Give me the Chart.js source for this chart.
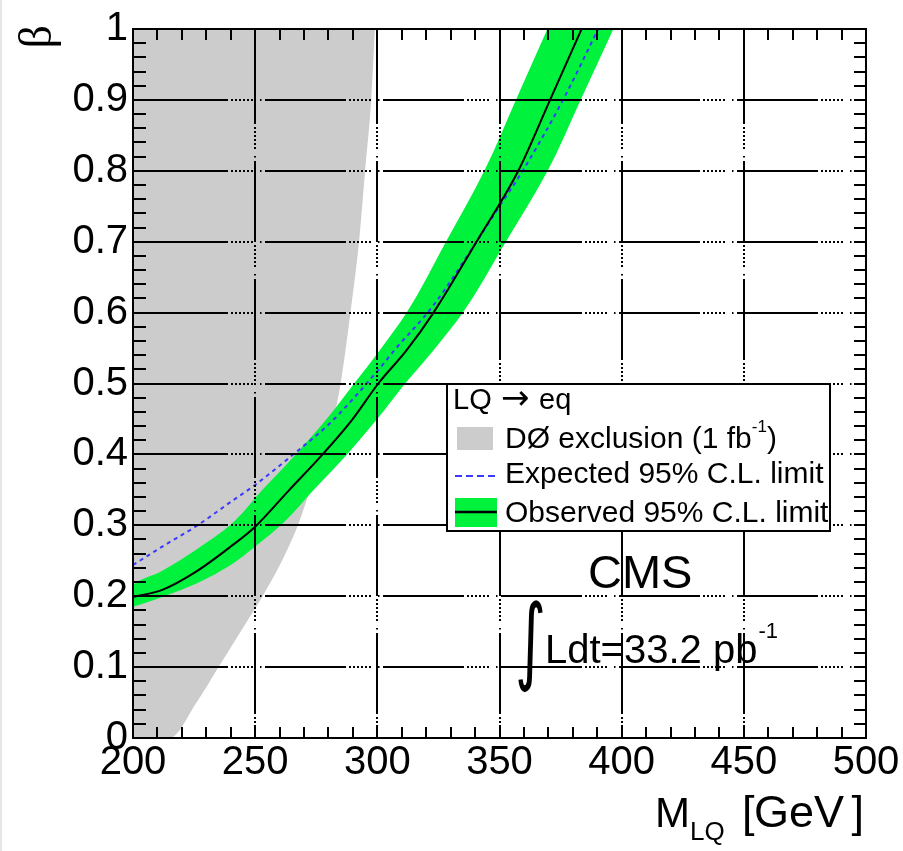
<!DOCTYPE html>
<html>
<head>
<meta charset="utf-8">
<title>LQ → eq exclusion in β vs M_LQ</title>
<script src="https://cdn.jsdelivr.net/npm/chart.js@4.4.0/dist/chart.umd.min.js"></script>
<style>
  html, body { margin: 0; padding: 0; background: #fff; }
  #wrap { position: relative; width: 903px; height: 851px; }
</style>
</head>
<body>
<div id="wrap"><canvas id="limits"></canvas></div>
<script>
// DØ exclusion (1 fb^-1) boundary, excluded region lies above/left of it
const d0Mass = [200, 215, 226, 235, 244, 253, 261, 267.5, 272.5, 277.5, 282, 285, 289, 292.5, 295, 297.5, 299];
const d0Beta = [0, 0, 0.05, 0.1, 0.15, 0.2, 0.25, 0.3, 0.35, 0.4, 0.45, 0.5, 0.6, 0.7, 0.8, 0.9, 1];

// observed limit uncertainty band, left (upper) and right (lower) edges, ordered in beta
const bandLeftMass = [200, 200, 212, 226, 239.7, 253, 266.6, 278.8, 290.5, 301, 312, 328.1, 343.8, 356.7, 369.6];
const bandLeftBeta = [0.185, 0.214, 0.236, 0.266, 0.300, 0.350, 0.400, 0.448, 0.500, 0.547, 0.600, 0.700, 0.800, 0.900, 1.000];
const bandRightMass = [200, 212, 226, 240, 250, 262, 274, 287.6, 299.5, 311.4, 323, 335, 352.6, 369.7, 383.2, 396.6];
const bandRightBeta = [0.185, 0.199, 0.218, 0.244, 0.270, 0.305, 0.350, 0.400, 0.448, 0.500, 0.547, 0.600, 0.700, 0.800, 0.900, 1.000];

// observed 95% C.L. limit
const obsMass = [200, 212, 226, 240, 250, 264, 277.6, 289.5, 300.4, 312, 323, 340.6, 357.7, 370.7, 383.6];
const obsBeta = [0.199, 0.209, 0.235, 0.270, 0.298, 0.350, 0.400, 0.448, 0.500, 0.547, 0.600, 0.700, 0.800, 0.900, 1.000];

// expected 95% C.L. limit
const expMass = [200, 212, 226, 240, 250, 267, 280.6, 300.4, 307, 322.9, 340.6, 350, 359.5, 376, 390.4];
const expBeta = [0.244, 0.270, 0.299, 0.333, 0.357, 0.404, 0.444, 0.519, 0.547, 0.610, 0.700, 0.750, 0.800, 0.900, 1.000];

const xTickLabels = ["200", "250", "300", "350", "400", "450", "500"];
const yTickLabels = ["0", "0.1", "0.2", "0.3", "0.4", "0.5", "0.6", "0.7", "0.8", "0.9", "1"];

const FONT = "'Liberation Sans', Arial, Helvetica, sans-serif";
const GREY = "#cccccc";
const GREEN = "#00f23c";
const BLUE = "#3a3aff";

const toPoints = (xs, ys) => xs.map((x, i) => ({ x: x, y: ys[i] }));

//ROOT style frame: dash-dot grid on top of the fills, inward minor ticks
const framePlugin = {
  id: "frame",
  afterDatasetsDraw(chart) {
    const { ctx, chartArea: a, scales } = chart;
    const x = scales.x;
    const y = scales.y;
    const lead = 95;
    const pattern = [81, 3, 2, 2, 2, 2, 2, 2, 2, 2, 2, 2, 2, 7, 1.5, 3.5];

    ctx.save();
    ctx.strokeStyle = "#000";
    ctx.lineWidth = 2;
    ctx.lineCap = "butt";

    const gridLine = (x0, y0, dx, dy, len) => {
      ctx.setLineDash([]);
      ctx.beginPath();
      ctx.moveTo(x0, y0);
      ctx.lineTo(x0 + dx * lead, y0 + dy * lead);
      ctx.stroke();
      ctx.setLineDash(pattern);
      ctx.lineDashOffset = 81;
      ctx.beginPath();
      ctx.moveTo(x0 + dx * lead, y0 + dy * lead);
      ctx.lineTo(x0 + dx * len, y0 + dy * len);
      ctx.stroke();
    };

    for (let k = 1; k < 10; k++) {
      const py = Math.round(y.getPixelForValue(k / 10));
      gridLine(a.left, py, 1, 0, a.right - a.left);
    }
    for (let m = 250; m < 500; m += 50) {
      const px = Math.round(x.getPixelForValue(m));
      gridLine(px, a.top, 0, 1, a.bottom - a.top);
    }

    ctx.setLineDash([]);
    ctx.beginPath();
    for (let m = 200; m <= 500; m += 10) {
      const px = Math.round(x.getPixelForValue(m));
      ctx.moveTo(px, a.bottom);
      ctx.lineTo(px, a.bottom - 11);
      ctx.moveTo(px, a.top);
      ctx.lineTo(px, a.top + 11);
    }
    for (let k = 0; k <= 50; k++) {
      const py = Math.round(y.getPixelForValue(k / 50));
      ctx.moveTo(a.left, py);
      ctx.lineTo(a.left + 13, py);
      ctx.moveTo(a.right, py);
      ctx.lineTo(a.right - 12, py);
    }
    ctx.stroke();

    ctx.strokeRect(a.left, a.top, a.right - a.left, a.bottom - a.top);
    ctx.restore();
  },
};

//legend box, CMS label, luminosity and axis titles
const labelsPlugin = {
  id: "labels",
  afterDraw(chart) {
    const ctx = chart.ctx;
    ctx.save();

    // thin grey strip on the left page edge
    ctx.fillStyle = "#e6e6e6";
    ctx.fillRect(0, 0, 2, chart.height);

    // legend
    ctx.fillStyle = "#fff";
    ctx.fillRect(447, 384, 383, 147);
    ctx.strokeStyle = "#000";
    ctx.lineWidth = 2;
    ctx.strokeRect(447, 384, 383, 147);

    ctx.fillStyle = "#000";
    ctx.textAlign = "left";
    ctx.textBaseline = "alphabetic";
    ctx.font = "29px " + FONT;
    ctx.fillText("LQ", 453, 409);
    ctx.font = "34px 'DejaVu Sans', sans-serif";
    ctx.fillText("\u2192", 501, 409);
    ctx.font = "29px " + FONT;
    ctx.fillText("eq", 539, 409);

    ctx.fillStyle = GREY;
    ctx.fillRect(457, 427, 36, 23);
    ctx.fillStyle = "#000";
    ctx.font = "30px " + FONT;
    let tx = 505;
    const d0Text = "D\u00d8 exclusion (1 fb";
    ctx.fillText(d0Text, tx, 448);
    tx += ctx.measureText(d0Text).width;
    ctx.font = "17px " + FONT;
    ctx.fillText("-1", tx, 432);
    tx += ctx.measureText("-1").width;
    ctx.font = "30px " + FONT;
    ctx.fillText(")", tx, 448);

    ctx.strokeStyle = BLUE;
    ctx.lineWidth = 2;
    ctx.setLineDash([7, 4]);
    ctx.beginPath();
    ctx.moveTo(455, 476);
    ctx.lineTo(497, 476);
    ctx.stroke();
    ctx.setLineDash([]);
    ctx.fillText("Expected 95% C.L. limit", 505, 483);

    ctx.fillStyle = GREEN;
    ctx.fillRect(455, 498, 42, 29);
    ctx.strokeStyle = "#000";
    ctx.lineWidth = 2.5;
    ctx.beginPath();
    ctx.moveTo(455, 512);
    ctx.lineTo(497, 512);
    ctx.stroke();
    ctx.save();
    ctx.beginPath();
    ctx.rect(448, 385, 381, 145);
    ctx.clip();
    ctx.fillStyle = "#000";
    ctx.fillText("Observed 95% C.L. limit", 505, 522);
    ctx.restore();

    // CMS and integrated luminosity
    ctx.fillStyle = "#000";
    ctx.font = "47px " + FONT;
    ctx.fillText("CMS", 588, 588);

    // integral sign, squeezed horizontally to a thin stroke
    const intFont = "'DejaVu Sans', sans-serif";
    ctx.font = "100px " + intFont;
    const im = ctx.measureText("\u222b");
    const ih = im.actualBoundingBoxAscent + im.actualBoundingBoxDescent;
    const isz = 100 * 93 / ih;
    ctx.font = isz.toFixed(1) + "px " + intFont;
    const im2 = ctx.measureText("\u222b");
    const iw = im2.actualBoundingBoxLeft + im2.actualBoundingBoxRight;
    const squeeze = 25 / iw;
    ctx.save();
    ctx.translate(518, 600 + im2.actualBoundingBoxAscent);
    ctx.scale(squeeze, 1);
    ctx.fillText("\u222b", im2.actualBoundingBoxLeft, 0);
    ctx.restore();

    ctx.font = "40px " + FONT;
    const lumi = "Ldt=33.2 pb";
    ctx.fillText(lumi, 545, 663);
    const lw = ctx.measureText(lumi).width;
    ctx.font = "22px " + FONT;
    ctx.fillText("-1", 545 + lw + 1, 638);

    // x title: M_LQ [GeV]
    ctx.font = "42px " + FONT;
    ctx.fillText("M", 655, 827);
    const mw = ctx.measureText("M").width;
    ctx.font = "26px " + FONT;
    ctx.fillText("LQ", 655 + mw, 840);
    ctx.font = "45px " + FONT;
    ctx.fillText("[", 742, 827);
    ctx.fillText("GeV", 754, 827);
    ctx.textAlign = "right";
    ctx.fillText("]", 864, 827);

    // y title: beta, rotated
    ctx.textAlign = "right";
    ctx.font = "46px 'Liberation Serif', serif";
    const bm = ctx.measureText("\u03b2");
    ctx.translate(18 + bm.actualBoundingBoxAscent, 25);
    ctx.rotate(-Math.PI / 2);
    ctx.fillText("\u03b2", 0, 0);

    ctx.restore();
  },
};

Chart.defaults.font.family = FONT;
Chart.defaults.color = "#000";

new Chart(document.getElementById("limits"), {
  type: "line",
  data: {
    datasets: [
      {
        label: "Observed 95% C.L. limit",
        data: toPoints(obsMass, obsBeta),
        borderColor: "#000",
        borderWidth: 2,
        pointRadius: 0,
        cubicInterpolationMode: "monotone",
        fill: false,
        order: 1,
      },
      {
        label: "Expected 95% C.L. limit",
        data: toPoints(expMass, expBeta),
        borderColor: BLUE,
        borderWidth: 2,
        borderDash: [4, 4],
        pointRadius: 0,
        cubicInterpolationMode: "monotone",
        fill: false,
        order: 2,
      },
      {
        label: "band left edge",
        indexAxis: "y",
        data: toPoints(bandLeftMass, bandLeftBeta),
        borderColor: "rgba(0,0,0,0)",
        borderWidth: 0,
        pointRadius: 0,
        cubicInterpolationMode: "monotone",
        fill: false,
        order: 3,
      },
      {
        label: "band right edge",
        indexAxis: "y",
        data: toPoints(bandRightMass, bandRightBeta),
        borderColor: "rgba(0,0,0,0)",
        borderWidth: 0,
        backgroundColor: GREEN,
        pointRadius: 0,
        cubicInterpolationMode: "monotone",
        fill: 2,
        order: 4,
      },
      {
        label: "D\u00d8 exclusion (1 fb-1)",
        data: toPoints(d0Mass, d0Beta),
        borderColor: "rgba(0,0,0,0)",
        borderWidth: 0,
        backgroundColor: GREY,
        pointRadius: 0,
        cubicInterpolationMode: "monotone",
        fill: "end",
        order: 5,
      },
    ],
  },
  options: {
    responsive: true,
    maintainAspectRatio: false,
    animation: false,
    devicePixelRatio: 1,
    layout: { padding: { left: 0, right: 37, top: 29, bottom: 0 } },
    plugins: {
      legend: { display: false },
      tooltip: { enabled: false },
    },
    scales: {
      x: {
        type: "linear",
        min: 200,
        max: 500,
        afterFit: (s) => { s.height = 113; },
        grid: { display: false, drawTicks: false },
        border: { display: false },
        ticks: {
          stepSize: 50,
          autoSkip: false,
          maxRotation: 0,
          padding: 1,
          color: "#000",
          font: { size: 40 },
          callback: (v, i) => xTickLabels[i],
        },
      },
      y: {
        type: "linear",
        min: 0,
        max: 1,
        afterFit: (s) => { s.width = 133; },
        grid: { display: false, drawTicks: false },
        border: { display: false },
        ticks: {
          stepSize: 0.1,
          autoSkip: false,
          padding: 5,
          color: "#000",
          font: { size: 40 },
          callback: (v, i) => yTickLabels[i],
        },
      },
    },
  },
  plugins: [framePlugin, labelsPlugin],
});
</script>
</body>
</html>
